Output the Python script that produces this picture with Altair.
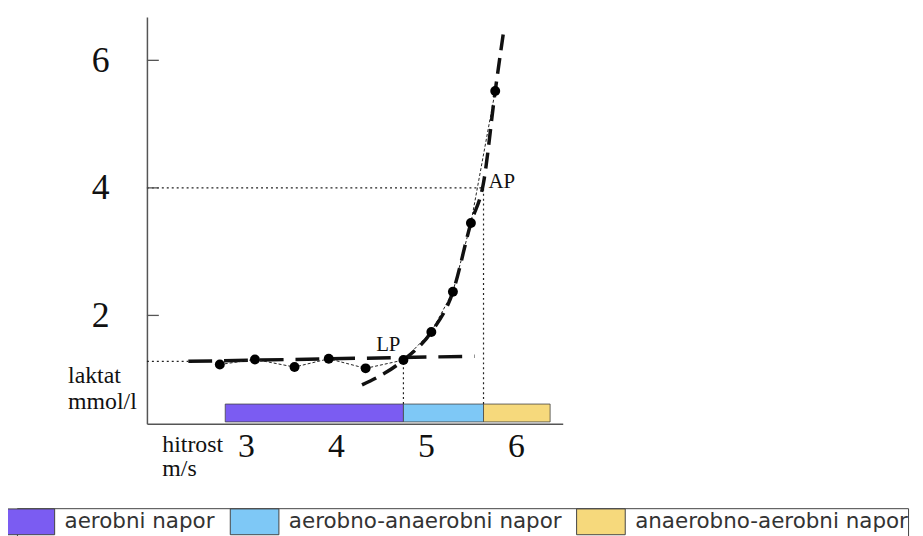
import altair as alt
import pandas as pd

# measured points (speed m/s, lactate mmol/l)
speed = [2.71, 3.10, 3.54, 3.92, 4.33, 4.75, 5.06, 5.30, 5.50, 5.77]
lactate = [1.23, 1.31, 1.19, 1.32, 1.17, 1.30, 1.74, 2.37, 3.45, 5.52]

# thick dashed fitted curve
fit_speed = [4.29, 4.75, 5.06, 5.30, 5.50, 5.64, 5.77, 5.86]
fit_lactate = [0.91, 1.30, 1.74, 2.37, 3.45, 4.08, 5.52, 6.42]

# thick dashed baseline
base_speed = [2.36, 5.54]
base_lactate = [1.28, 1.36]

# thresholds
lp_speed, lp_lactate = 4.75, 1.30
ap_speed, ap_lactate = 5.64, 4.0

# training zones
zone_names = ["aerobni napor", "aerobno-anaerobni napor", "anaerobno-aerobni napor"]
zone_start = [2.77, 4.75, 5.64]
zone_end = [4.75, 5.64, 6.38]
zone_colors = ["#7b5cf2", "#7ec8f6", "#f6d97c"]
zone_low, zone_high = 0.33, 0.61

x_ticks = [3, 4, 5, 6]
y_ticks = [2, 4, 6]
x_domain = [1.9, 6.52]
y_domain = [0.3, 6.68]

SERIF = "Liberation Serif"

pts = pd.DataFrame({"v": speed, "la": lactate})
fit = pd.DataFrame({"v": fit_speed, "la": fit_lactate})
base = pd.DataFrame({"v": base_speed, "la": base_lactate})
zones = pd.DataFrame({"napor": zone_names, "v0": zone_start, "v1": zone_end,
                      "y0": [zone_low] * 3, "y1": [zone_high] * 3})

xs = alt.Scale(domain=x_domain, nice=False, zero=False)
ys = alt.Scale(domain=y_domain, nice=False, zero=False)

x_axis = alt.Axis(values=x_ticks, format="d", tickSize=0, grid=False, labelFont=SERIF,
                  labelFontSize=34, labelColor="#111", labelPadding=6, labelBaseline="top",
                  domainColor="#555", domainWidth=1.5,
                  title=["hitrost", "m/s"], titleFont=SERIF, titleFontSize=24,
                  titleFontWeight="normal", titleColor="#111", titleAlign="left",
                  titleBaseline="alphabetic", titleX=15, titleY=28, titleLineHeight=24,
                  titleAnchor="start")
y_axis = alt.Axis(values=y_ticks, format="d", tickSize=0, grid=False, labelFont=SERIF,
                  labelFontSize=36, labelColor="#111", labelPadding=38, labelBaseline="middle",
                  domainColor="#555", domainWidth=1.5,
                  title=["laktat", "mmol/l"], titleFont=SERIF, titleFontSize=24,
                  titleFontWeight="normal", titleColor="#111", titleAngle=0, titleAlign="left",
                  titleBaseline="alphabetic", titleX=-80, titleY=368, titleLineHeight=27,
                  titleAnchor="start")

bars = alt.Chart(zones).mark_rect(stroke="#444", strokeWidth=0.8).encode(
    x=alt.X("v0:Q", scale=xs, axis=x_axis),
    x2="v1:Q",
    y=alt.Y("y0:Q", scale=ys, axis=y_axis),
    y2="y1:Q",
    color=alt.Color("napor:N", scale=alt.Scale(domain=zone_names, range=zone_colors),
                    legend=alt.Legend(title=None, orient="none", direction="horizontal",
                                      legendX=-131, legendY=495,
                                      symbolType="M-1.885,-1H1.885V1H-1.885Z",
                                      symbolSize=676, symbolStrokeColor="#444",
                                      symbolStrokeWidth=1, symbolOpacity=1,
                                      labelFont="DejaVu Sans", labelFontSize=21.6,
                                      labelColor="#333", labelOffset=21,
                                      columnPadding=12, padding=0,
                                      strokeColor="#444", labelLimit=400)),
)

# dotted guide lines
hguide = pd.DataFrame({"x0": [x_domain[0], x_domain[0]], "x1": [ap_speed, base_speed[0]],
                       "y": [ap_lactate, base_lactate[0]]})
vguide = pd.DataFrame({"x": [lp_speed, ap_speed], "y0": [zone_high, zone_high],
                       "y1": [lp_lactate, ap_lactate]})
hrules = alt.Chart(hguide).mark_rule(color="#222", strokeWidth=1.2, strokeDash=[2, 3]).encode(
    x=alt.X("x0:Q", scale=xs), x2="x1:Q", y=alt.Y("y:Q", scale=ys))
vrules = alt.Chart(vguide).mark_rule(color="#222", strokeWidth=1.2, strokeDash=[2, 3]).encode(
    x=alt.X("x:Q", scale=xs), y=alt.Y("y0:Q", scale=ys), y2="y1:Q")

base_line = alt.Chart(base).mark_line(color="#111", strokeWidth=3.5, strokeDash=[24, 12]).encode(
    x=alt.X("v:Q", scale=xs), y=alt.Y("la:Q", scale=ys))
fit_line = alt.Chart(fit).mark_line(color="#111", strokeWidth=3.5, strokeDash=[16, 8],
                                    interpolate="monotone").encode(
    x=alt.X("v:Q", scale=xs), y=alt.Y("la:Q", scale=ys))
thin_line = alt.Chart(pts).mark_line(color="#222", strokeWidth=1, strokeDash=[3, 2]).encode(
    x=alt.X("v:Q", scale=xs), y=alt.Y("la:Q", scale=ys))
dots = alt.Chart(pts).mark_circle(color="#000", opacity=1, size=100).encode(
    x=alt.X("v:Q", scale=xs), y=alt.Y("la:Q", scale=ys))

ticks = alt.Chart(pd.DataFrame({"t": y_ticks})).mark_rule(color="#555", strokeWidth=1.3).encode(
    y=alt.Y("t:Q", scale=ys), x=alt.value(0), x2=alt.value(12))

lp_txt = alt.Chart(pd.DataFrame({"v": [lp_speed], "la": [lp_lactate], "t": ["LP"]})).mark_text(
    font=SERIF, fontSize=21, color="#111", align="right", baseline="alphabetic", dx=-3, dy=-9
).encode(x=alt.X("v:Q", scale=xs), y=alt.Y("la:Q", scale=ys), text="t:N")
ap_txt = alt.Chart(pd.DataFrame({"v": [ap_speed], "la": [ap_lactate], "t": ["AP"]})).mark_text(
    font=SERIF, fontSize=21, color="#111", align="left", baseline="alphabetic", dx=5, dy=0
).encode(x=alt.X("v:Q", scale=xs), y=alt.Y("la:Q", scale=ys), text="t:N")

chart = alt.layer(bars, hrules, vrules, base_line, thin_line, fit_line, dots, ticks,
                  lp_txt, ap_txt).properties(
    width=419, height=410,
    autosize=alt.AutoSizeParams(type="none"),
    padding={"left": 140, "top": 7, "right": 355, "bottom": 111},
    background="white",
).configure_view(stroke=None)

chart.save("out.html", embed_options={"renderer": "svg", "actions": False})
